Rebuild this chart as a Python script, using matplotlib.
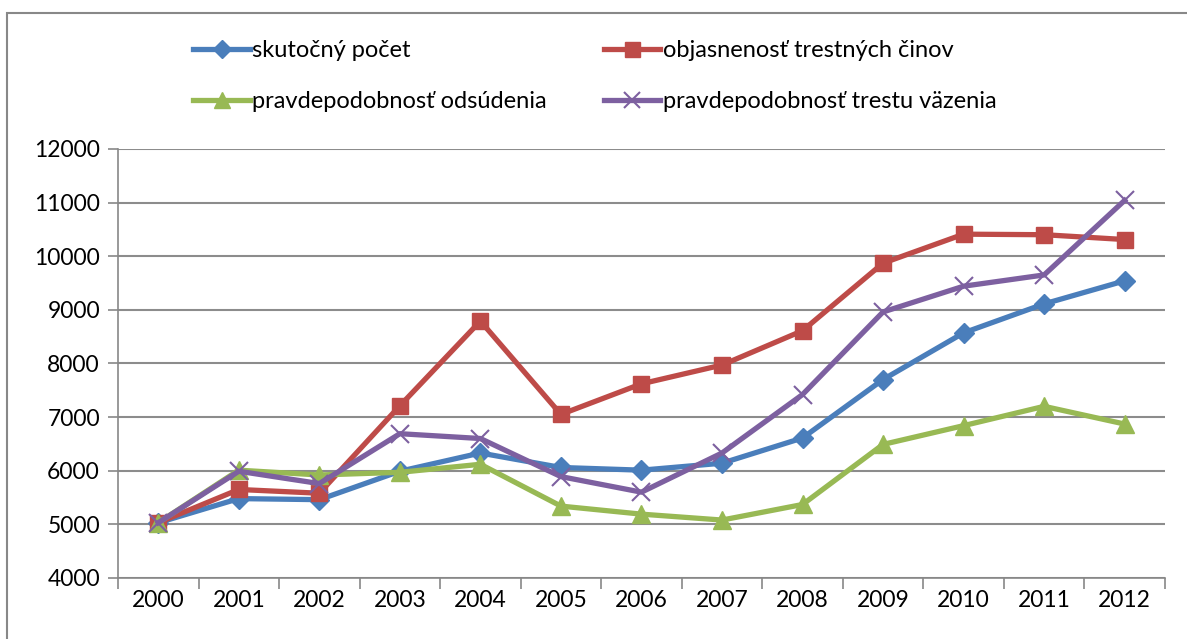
import matplotlib.pyplot as plt
from matplotlib.patches import Rectangle

plt.rcParams['font.family'] = ['Lato', 'DejaVu Sans']

years = ['2000', '2001', '2002', '2003', '2004', '2005', '2006',
         '2007', '2008', '2009', '2010', '2011', '2012']
skutocny = [5030, 5480, 5460, 5990, 6330, 6060, 6010, 6140, 6610, 7700, 8570, 9110, 9540]
objasnenost = [5030, 5650, 5580, 7210, 8790, 7050, 7620, 7970, 8610, 9870, 10410, 10400, 10310]
odsudenie = [5030, 6010, 5920, 5970, 6120, 5340, 5190, 5080, 5370, 6490, 6840, 7200, 6870]
vazenie = [5030, 5990, 5760, 6690, 6600, 5890, 5600, 6330, 7420, 8960, 9440, 9650, 11040]

fig = plt.figure(figsize=(11.87, 6.39), dpi=100)
ax = fig.add_axes([0.0994, 0.0955, 0.882, 0.6715])

x = range(len(years))
l1, = ax.plot(x, skutocny, color='#4A7EBB', lw=3.8, marker='D', ms=10, label='skutočný počet')
l2, = ax.plot(x, objasnenost, color='#BE4B48', lw=3.8, marker='s', ms=12, label='objasnenosť trestných činov')
l3, = ax.plot(x, odsudenie, color='#98B954', lw=3.8, marker='^', ms=13, label='pravdepodobnosť odsúdenia')
l4, = ax.plot(x, vazenie, color='#7D60A0', lw=3.8, marker='x', ms=13, mew=1.5, label='pravdepodobnosť trestu väzenia')

ax.set_xlim(-0.5, len(years) - 0.5)
ax.set_ylim(4000, 12000)
ax.set_yticks(range(4000, 12001, 1000))
ax.set_xticks([i - 0.5 for i in range(len(years) + 1)])
ax.set_xticklabels([])
ax.set_xticks(list(x), minor=True)
ax.set_xticklabels(years, minor=True)
ax.tick_params(axis='x', which='major', length=8, color='#888888', width=1.2)
ax.tick_params(axis='x', which='minor', length=0, pad=9, labelsize=16.5)
ax.tick_params(axis='y', length=7, color='#888888', width=1.2, labelsize=16.5, pad=6)
ax.grid(axis='y', color='#8c8c8c', lw=1.5)
ax.set_axisbelow(True)
for s in ['top', 'right']:
    ax.spines[s].set_visible(False)
for s in ['left', 'bottom']:
    ax.spines[s].set_color('#888888')
    ax.spines[s].set_linewidth(1.2)

fig.legend([l1, l3, l2, l4], [l.get_label() for l in [l1, l3, l2, l4]],
           loc='upper left', bbox_to_anchor=(0.145, 0.97), ncol=2, frameon=False,
           fontsize=17, handlelength=2.4, handletextpad=0.1, columnspacing=2.4,
           labelspacing=1.25, markerscale=0.9)

fig.patches.append(Rectangle((0.006, -0.01), 1.1, 0.99, transform=fig.transFigure,
                             fill=False, edgecolor='#888888', lw=1.5))

fig.savefig('out.png', dpi=100)
